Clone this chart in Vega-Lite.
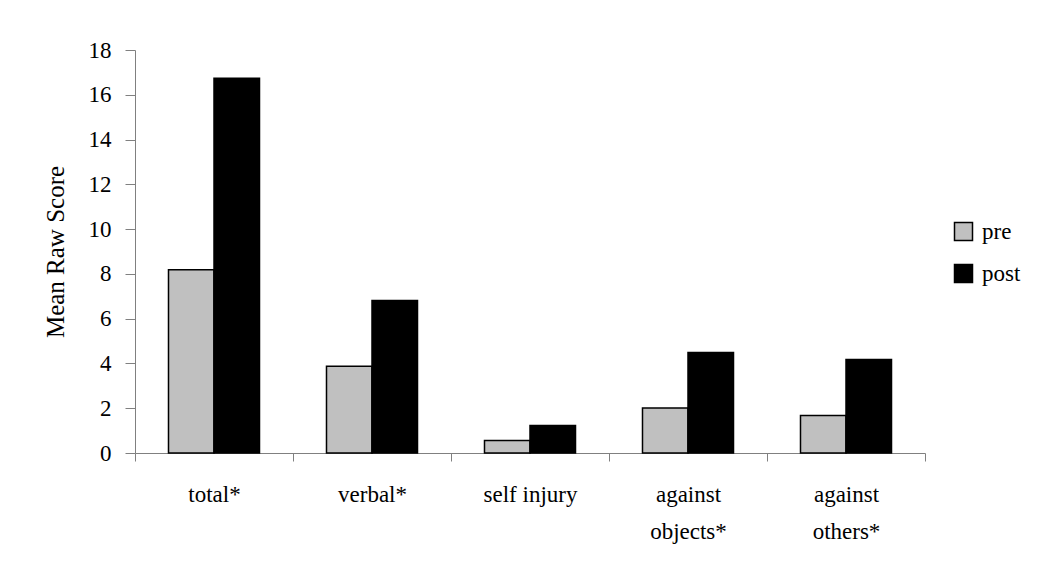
{
  "$schema": "https://vega.github.io/schema/vega-lite/v6.json",
  "autosize": "none",
  "width": 790,
  "height": 403,
  "padding": {"left": 135, "top": 50, "right": 125, "bottom": 132},
  "background": "white",
  "config": {
    "font": "Liberation Serif",
    "view": {"stroke": null}
  },
  "data": {
    "values": [
      {"category": "total*", "time": "pre", "score": 8.18},
      {"category": "total*", "time": "post", "score": 16.74},
      {"category": "verbal*", "time": "pre", "score": 3.88},
      {"category": "verbal*", "time": "post", "score": 6.81},
      {"category": "self injury", "time": "pre", "score": 0.56},
      {"category": "self injury", "time": "post", "score": 1.23},
      {"category": "against objects*", "time": "pre", "score": 2.01},
      {"category": "against objects*", "time": "post", "score": 4.49},
      {"category": "against others*", "time": "pre", "score": 1.67},
      {"category": "against others*", "time": "post", "score": 4.18}
    ]
  },
  "mark": {"type": "bar", "stroke": "black", "strokeWidth": 1.5},
  "encoding": {
    "x": {
      "field": "category",
      "type": "nominal",
      "sort": ["total*", "verbal*", "self injury", "against objects*", "against others*"],
      "scale": {"paddingInner": 0, "paddingOuter": 0},
      "axis": {
        "title": null,
        "labelAngle": 0,
        "tickBand": "extent",
        "domainColor": "#808080",
        "tickColor": "#808080",
        "tickSize": 8,
        "labelFontSize": 23,
        "labelColor": "black",
        "labelPadding": 22,
        "labelLineHeight": 37,
        "labelBaseline": "top",
        "labelExpr": "indexof(datum.label, 'against') == 0 ? split(datum.label, ' ') : datum.label"
      }
    },
    "xOffset": {
      "field": "time",
      "type": "nominal",
      "sort": ["pre", "post"],
      "scale": {"paddingInner": 0, "paddingOuter": 0.736}
    },
    "y": {
      "field": "score",
      "type": "quantitative",
      "scale": {"domain": [0, 18]},
      "axis": {
        "title": "Mean Raw Score",
        "titleFontSize": 25,
        "titleFontWeight": "normal",
        "titleColor": "black",
        "titlePadding": 20,
        "values": [0, 2, 4, 6, 8, 10, 12, 14, 16, 18],
        "grid": false,
        "domainColor": "#808080",
        "tickColor": "#808080",
        "tickSize": 10,
        "labelPadding": 14,
        "labelFontSize": 23,
        "labelColor": "black"
      }
    },
    "color": {
      "field": "time",
      "type": "nominal",
      "sort": ["pre", "post"],
      "scale": {"domain": ["pre", "post"], "range": ["#c0c0c0", "#000000"]},
      "legend": {
        "title": null,
        "orient": "none",
        "legendX": 817,
        "legendY": 170,
        "symbolType": "square",
        "symbolSize": 324,
        "symbolStrokeColor": "black",
        "symbolStrokeWidth": 1.5,
        "labelFontSize": 23,
        "labelColor": "black",
        "rowPadding": 17,
        "labelOffset": 7
      }
    }
  }
}
